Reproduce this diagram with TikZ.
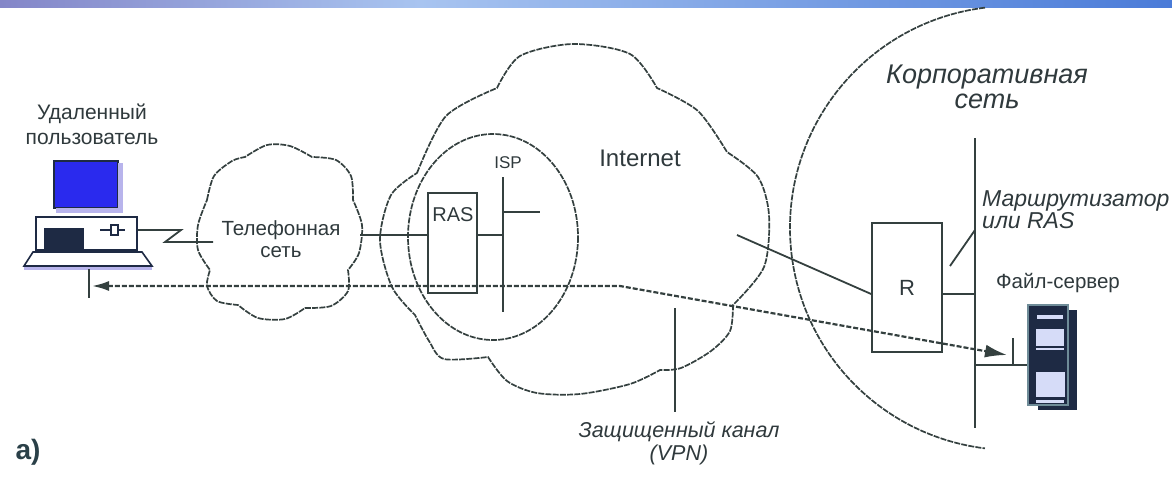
\documentclass[tikz,border=0pt]{standalone}
\usepackage{fontspec}
\setmainfont{Liberation Sans}
\usetikzlibrary{arrows.meta}
\definecolor{lc}{HTML}{34403F}
\definecolor{tc}{HTML}{2F393C}
\definecolor{navy}{HTML}{1E2A44}
\definecolor{scrblue}{HTML}{2A2AEE}
\definecolor{lav}{HTML}{B8B4EC}
\definecolor{winlt}{HTML}{D6DCF8}
\definecolor{srvedge}{HTML}{6F8C98}
\tikzset{
  ln/.style={draw=lc, line width=1.8pt},
  cloudln/.style={draw=lc, line width=1.7pt, dash pattern=on 6pt off 1.2pt},
  tunnel/.style={draw=lc, line width=2.2pt, dash pattern=on 5pt off 2pt},
  devbox/.style={draw=lc, line width=1.7pt, rectangle, inner sep=0pt, fill=none},
  lbl/.style={text=tc, inner sep=0pt, align=center},
}
\newcommand{\fsz}[2]{\fontsize{#1}{#2}\selectfont}
\begin{document}
\begin{tikzpicture}[x=1pt, y=-1pt]
\useasboundingbox (0,0) rectangle (1172,477);

% title strip
\shade[left color={rgb,255:red,132;green,134;blue,200}, right color={rgb,255:red,168;green,196;blue,240}] (0,0) rectangle (420,7);
\shade[left color={rgb,255:red,168;green,196;blue,240}, right color={rgb,255:red,74;green,123;blue,216}] (420,0) rectangle (1172,7);

% telephone network cloud
\draw[cloudln]
  plot[smooth] coordinates {(207,200) (214,176) (232,161) (245,157)}
  -- plot[smooth] coordinates {(245,157) (267,145) (290,146) (312,157)}
  -- plot[smooth] coordinates {(312,157) (336,160) (351,176) (353,200)}
  -- plot[smooth] coordinates {(353,200) (362,225) (359,253) (348,270)}
  -- plot[smooth] coordinates {(348,270) (348,291) (331,306) (305,308)}
  -- plot[smooth] coordinates {(305,308) (285,319) (258,318) (238,305)}
  -- plot[smooth] coordinates {(238,305) (217,301) (207,286) (210,270)}
  -- plot[smooth] coordinates {(210,270) (198,250) (198,225) (207,200)};

% Internet cloud
\draw[cloudln]
  plot[smooth] coordinates {(417,173) (446,116) (497,88)}
  -- plot[smooth] coordinates {(497,88) (520,56) (573,44) (630,54) (657,88)}
  -- plot[smooth] coordinates {(657,88) (698,111) (727,152)}
  -- plot[smooth] coordinates {(727,152) (758,177) (769,215) (764,267) (733,305)}
  -- plot[smooth] coordinates {(733,305) (730,331) (711,351) (681,368) (660,370)}
  -- plot[smooth] coordinates {(660,370) (630,384) (580,394) (537,393) (507,381) (488,357)}
  -- plot[smooth] coordinates {(488,357) (444,359) (429,341) (415,315)}
  -- plot[smooth] coordinates {(415,315) (392,287) (380,240) (391,195) (417,173)};

% provider area
\draw[cloudln] (493,237) ellipse [x radius=85, y radius=103];

% corporate network boundary
\coordinate (corpC) at (1012,228);
\draw[cloudln] (corpC) ++(263:222) arc[start angle=263, end angle=97, radius=222];

% remote user's computer
\filldraw[fill=scrblue, draw=navy, line width=1.6pt] (54,161) rectangle (118,208);
\fill[lav] (118,163) rectangle (123,211);
\fill[lav] (56,208) rectangle (123,213);
\node[draw=navy, fill=white, line width=1.6pt, minimum width=101pt, minimum height=33pt, inner sep=0pt] (pcbase) at (86.5,233.5) {};
\fill[navy] (44,228) rectangle (84,250);
\draw[navy, line width=1.5pt] (100,230) -- (125,230);
\filldraw[fill=white, draw=navy, line width=1.5pt] (111,225) rectangle (118,235);
\filldraw[fill=white, draw=navy, line width=1.6pt] (33,252) -- (142,252) -- (152,266) -- (24,266) -- cycle;
\draw[lav, line width=2.2pt] (24,268.5) -- (152,268.5);
\coordinate (kbB) at (89,269);
\draw[ln] (kbB) -- (kbB |- 0,298);

% modem link into the telephone network
\coordinate (telIn) at (213,242);
\draw[ln] (pcbase.east |- 0,230) -- (181,230) -- (165,242) -- (telIn);

% access server and provider bus
\node[devbox, minimum width=49pt, minimum height=100pt] (ras) at (452.5,243) {};
\node[lbl, font=\fsz{20}{22}] (raslbl) at (453,215) {RAS};
\coordinate (telR) at (360,235);
\draw[ln] (telR) -- (ras.west |- telR);
\coordinate (ispT) at (503,177);
\coordinate (ispB) at (503,312);
\coordinate (ispE) at (540,212);
\draw[ln] (ispT) -- (ispB);
\draw[ln] (ispT |- ispE) -- (ispE);
\draw[ln] (ras.east |- telR) -- (ispT |- telR);

% corporate router, bus and file server
\node[devbox, minimum width=70pt, minimum height=129pt, font=\fsz{22}{24}, text=tc] (r) at (907,287.5) {R};
\coordinate (inetP) at (737,235);
\draw[ln] (inetP) -- (r.west |- 0,294);
\coordinate (cbT) at (975,138);
\coordinate (cbB) at (975,428);
\draw[ln] (cbT) -- (cbB);
\draw[ln] (r.east |- 0,294) -- (cbT |- 0,294);
\coordinate (ldr) at (950,266);
\draw[ln] (cbT |- 0,230) -- (ldr);

\fill[navy] (1038,310) rectangle (1077,410);
\node[draw=srvedge, fill=navy, line width=1.6pt, minimum width=40pt, minimum height=100pt, inner sep=0pt] (srv) at (1048,355) {};
\fill[winlt] (1037,315) rectangle (1063,319);
\fill[winlt] (1036,329) rectangle (1064,346);
\fill[winlt] (1036,348) rectangle (1064,350);
\fill[winlt] (1036,372) rectangle (1065,397);
\fill[winlt] (1036,400) rectangle (1064,403);
\draw[ln] (cbT |- 0,365) -- (srv.west |- 0,365);
\coordinate (tick) at (1013,338);
\draw[ln] (tick) -- (tick |- 0,365);

% protected tunnel
\coordinate (tunL) at (92,286);
\coordinate (tunK) at (620,286);
\coordinate (tunR) at (1007,355);
\draw[tunnel, {Latex[length=17pt,width=10pt]}-{Latex[length=22pt,width=13pt]}] (tunL) -- (tunK) -- (tunR);
\coordinate (vpnT) at (675,308);
\draw[ln] (vpnT) -- (vpnT |- 0,412);

% labels
\node[lbl, font=\fsz{21}{25}] (user) at (92,124) {Удаленный\\пользователь};
\node[lbl, font=\fsz{20.5}{22}] (tel) at (281,239) {Телефонная\\сеть};
\node[lbl, font=\fsz{17}{18}] (isplbl) at (508,163) {ISP};
\node[lbl, font=\fsz{24}{26}] (inet) at (640,158) {Internet};
\node[lbl, font=\itshape\fsz{27}{25}] (corp) at (987,87) {Корпоративная\\сеть};
\node[lbl, font=\itshape\fsz{23}{22}, align=left, anchor=west] (rtr) at (982,210) {Маршрутизатор\\или RAS};
\node[lbl, font=\fsz{20.5}{22}] (fslbl) at (1058,283) {Файл-сервер};
\node[lbl, font=\itshape\fsz{21.5}{23}] (vpn) at (679,443) {Защищенный канал\\(VPN)};
\node[lbl, font=\bfseries\fsz{28}{30}, text={rgb,255:red,42;green,64;blue,72}] (fig) at (28,452) {а)};
\end{tikzpicture}
\end{document}
